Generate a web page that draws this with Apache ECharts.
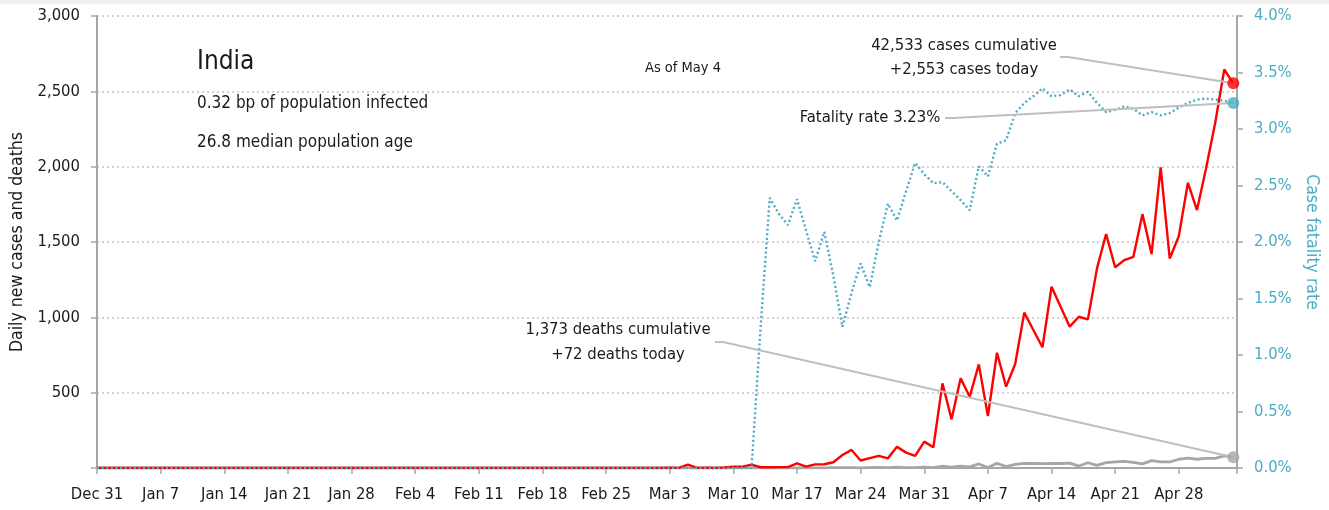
<!DOCTYPE html>
<html>
<head>
<meta charset="utf-8">
<title>India</title>
<script src="https://cdn.jsdelivr.net/npm/echarts/dist/echarts.min.js"></script>
<style>
html, body { margin: 0; padding: 0; background: #fff; }
#main { width: 1329px; height: 510px; }
</style>
</head>
<body>
<div id="main"></div>
<script type="text/javascript">
// x 轴刻度标签 (每 7 天), 第 0 天 = Dec 31
var weekLabels = ['Dec 31', 'Jan 7', 'Jan 14', 'Jan 21', 'Jan 28', 'Feb 4', 'Feb 11', 'Feb 18',
    'Feb 25', 'Mar 3', 'Mar 10', 'Mar 17', 'Mar 24', 'Mar 31', 'Apr 7', 'Apr 14', 'Apr 21', 'Apr 28'];

// 每日新增病例 (Dec 31 .. May 4)
var newCases = [
    0, 0, 0, 0, 0, 0, 0, 0, 0, 0,
    0, 0, 0, 0, 0, 0, 0, 0, 0, 0,
    0, 0, 0, 0, 0, 0, 0, 0, 0, 0,
    1, 0, 0, 1, 1, 0, 0, 0, 0, 0,
    0, 0, 0, 0, 0, 0, 0, 0, 0, 0,
    0, 0, 0, 0, 0, 0, 0, 0, 0, 0,
    0, 0, 0, 2, 1, 23, 1, 2, 1, 3,
    9, 9, 22, 5, 5, 6, 6, 31, 9, 24,
    25, 38, 86, 120, 50, 65, 80, 64, 141, 102,
    80, 175, 137, 562, 323, 595, 473, 688, 345, 765,
    540, 690, 1031, 916, 801, 1203, 1070, 938, 1004, 987,
    1325, 1553, 1332, 1380, 1402, 1685, 1420, 1995, 1391, 1539,
    1893, 1712, 1990, 2290, 2645, 2553
];

// 每日新增死亡
var newDeaths = [
    0, 0, 0, 0, 0, 0, 0, 0, 0, 0,
    0, 0, 0, 0, 0, 0, 0, 0, 0, 0,
    0, 0, 0, 0, 0, 0, 0, 0, 0, 0,
    0, 0, 0, 0, 0, 0, 0, 0, 0, 0,
    0, 0, 0, 0, 0, 0, 0, 0, 0, 0,
    0, 0, 0, 0, 0, 0, 0, 0, 0, 0,
    0, 0, 0, 0, 0, 0, 0, 0, 0, 0,
    0, 0, 1, 1, 0, 1, 0, 1, 0, 1,
    1, 2, 3, 2, 1, 3, 4, 3, 6, 2,
    3, 6, 3, 12, 6, 13, 8, 27, 3, 31,
    9, 24, 31, 30, 29, 31, 30, 32, 13, 35,
    18, 36, 41, 44, 38, 27, 49, 40, 40, 58,
    66, 58, 64, 64, 80, 72
];

// 病死率 (%)
var fatalityRate = [
    0, 0, 0, 0, 0, 0, 0, 0, 0, 0,
    0, 0, 0, 0, 0, 0, 0, 0, 0, 0,
    0, 0, 0, 0, 0, 0, 0, 0, 0, 0,
    0, 0, 0, 0, 0, 0, 0, 0, 0, 0,
    0, 0, 0, 0, 0, 0, 0, 0, 0, 0,
    0, 0, 0, 0, 0, 0, 0, 0, 0, 0,
    0, 0, 0, 0, 0, 0, 0, 0, 0, 0,
    0, 0, 0, 1.25, 2.39, 2.25, 2.15, 2.38, 2.1, 1.83,
    2.09, 1.7, 1.25, 1.55, 1.81, 1.6, 2.0, 2.34, 2.19, 2.45,
    2.7, 2.6, 2.52, 2.53, 2.45, 2.37, 2.28, 2.67, 2.58, 2.87,
    2.9, 3.14, 3.23, 3.29, 3.36, 3.29, 3.3, 3.35, 3.29, 3.33,
    3.23, 3.15, 3.17, 3.2, 3.18, 3.12, 3.15, 3.12, 3.14, 3.19,
    3.23, 3.26, 3.27, 3.26, 3.25, 3.23
];

var font = "'DejaVu Sans Condensed', 'Liberation Sans', sans-serif";
var blue = '#4bacc6';
var axisGray = '#a6a6a6';
var lastIdx = newCases.length - 1;

function toPairs(arr) {
    return arr.map(function (v, i) { return [i, v]; });
}

var chart = echarts.init(document.getElementById('main'));

var option = {
    backgroundColor: '#fff',
    animation: false,
    textStyle: { fontFamily: font },
    grid: { left: 97, right: 92, top: 16, bottom: 42, containLabel: false, outerBoundsMode: 'none' },
    xAxis: {
        type: 'value',
        min: 0,
        max: lastIdx + 0.4,
        interval: 7,
        axisLine: { lineStyle: { color: axisGray, width: 2 } },
        axisTick: { length: 6, lineStyle: { color: axisGray, width: 1.5 } },
        axisLabel: {
            color: '#1a1a1a', fontSize: 16.5, margin: 18, fontFamily: font,
            showMinLabel: true, showMaxLabel: true, hideOverlap: false,
            formatter: function (v) { return weekLabels[v / 7] || ''; }
        },
        splitLine: { show: false }
    },
    yAxis: [{
        type: 'value',
        position: 'left',
        min: 0,
        max: 3000,
        interval: 500,
        name: 'Daily new cases and deaths',
        nameLocation: 'middle',
        nameGap: 68,
        nameRotate: 90,
        nameTextStyle: { color: '#1a1a1a', fontSize: 17.5, fontFamily: font },
        axisLine: { show: true, lineStyle: { color: axisGray, width: 2 } },
        axisTick: { show: true, length: 6, lineStyle: { color: axisGray, width: 1.5 } },
        axisLabel: {
            color: '#1a1a1a', fontSize: 16.5, margin: 17, fontFamily: font,
            formatter: function (v) { return v === 0 ? '' : v.toLocaleString('en-US'); }
        },
        splitLine: { show: true, lineStyle: { color: '#c4c4c4', width: 1.5, type: [2, 3] } }
    }, {
        type: 'value',
        position: 'right',
        min: 0,
        max: 4,
        interval: 0.5,
        name: 'Case fatality rate',
        nameLocation: 'middle',
        nameGap: 61,
        nameRotate: -90,
        nameTextStyle: { color: blue, fontSize: 17.5, fontFamily: font },
        axisLine: { show: true, lineStyle: { color: axisGray, width: 2 } },
        axisTick: { show: true, length: 6, lineStyle: { color: axisGray, width: 1.5 } },
        axisLabel: {
            color: blue, fontSize: 16.5, margin: 17, fontFamily: font,
            formatter: function (v) { return v.toFixed(1) + '%'; }
        },
        splitLine: { show: false }
    }],
    series: [{
        name: 'Deaths',
        type: 'line',
        yAxisIndex: 0,
        showSymbol: false,
        data: toPairs(newDeaths),
        lineStyle: { color: axisGray, width: 2.8 },
        z: 2
    }, {
        name: 'Cases',
        type: 'line',
        yAxisIndex: 0,
        showSymbol: false,
        data: toPairs(newCases),
        lineStyle: { color: '#ff0000', width: 2.4 },
        z: 3
    }, {
        name: 'Fatality rate',
        type: 'line',
        yAxisIndex: 1,
        showSymbol: false,
        data: toPairs(fatalityRate),
        lineStyle: { color: blue, width: 2.4, type: [2, 2.6] },
        z: 4
    }, {
        type: 'scatter',
        yAxisIndex: 0,
        symbolSize: 12,
        itemStyle: { color: '#ff0000' },
        data: [[lastIdx, newCases[lastIdx]]],
        z: 6
    }, {
        type: 'scatter',
        yAxisIndex: 1,
        symbolSize: 12,
        itemStyle: { color: blue },
        data: [[lastIdx, fatalityRate[lastIdx]]],
        z: 6
    }, {
        type: 'scatter',
        yAxisIndex: 0,
        symbolSize: 12,
        itemStyle: { color: axisGray },
        data: [[lastIdx, newDeaths[lastIdx]]],
        z: 6
    }]
};
chart.setOption(option);

// 注释文字与引线
var pCase = chart.convertToPixel({ xAxisIndex: 0, yAxisIndex: 0 }, [lastIdx, newCases[lastIdx]]);
var pRate = chart.convertToPixel({ xAxisIndex: 0, yAxisIndex: 1 }, [lastIdx, fatalityRate[lastIdx]]);
var pDeath = chart.convertToPixel({ xAxisIndex: 0, yAxisIndex: 0 }, [lastIdx, newDeaths[lastIdx]]);

function label(text, x, y, size, align, color) {
    return {
        type: 'text', z: 10, silent: true,
        style: {
            text: text, x: x, y: y, fill: color || '#1a1a1a',
            font: size + 'px ' + font,
            textAlign: align || 'left', textVerticalAlign: 'middle',
            align: align || 'left', verticalAlign: 'middle'
        }
    };
}
function leader(points) {
    return {
        type: 'polyline', z: 5, silent: true,
        shape: { points: points },
        style: { stroke: '#bfbfbf', lineWidth: 2, fill: null }
    };
}

chart.setOption({
    graphic: [
        { type: 'rect', silent: true, shape: { x: 0, y: 0, width: 1329, height: 4 }, style: { fill: '#f0f0f0' } },
        label('India', 197, 62, 26),
        label('0.32 bp of population infected', 197, 104, 17),
        label('26.8 median population age', 197, 143, 17),
        label('As of May 4', 683, 68, 14.5, 'center'),
        label('42,533 cases cumulative', 964, 46, 16.5, 'center'),
        label('+2,553 cases today', 964, 70, 16.5, 'center'),
        label('Fatality rate 3.23%', 870, 118, 16.5, 'center'),
        label('1,373 deaths cumulative', 618, 330, 16.5, 'center'),
        label('+72 deaths today', 618, 355, 16.5, 'center'),
        leader([[1060, 57], [1068, 57], pCase]),
        leader([[945, 118], [953, 118], pRate]),
        leader([[715, 342], [723, 342], pDeath])
    ]
});

window.onresize = function () {
    chart.resize();
};
</script>
</body>
</html>
